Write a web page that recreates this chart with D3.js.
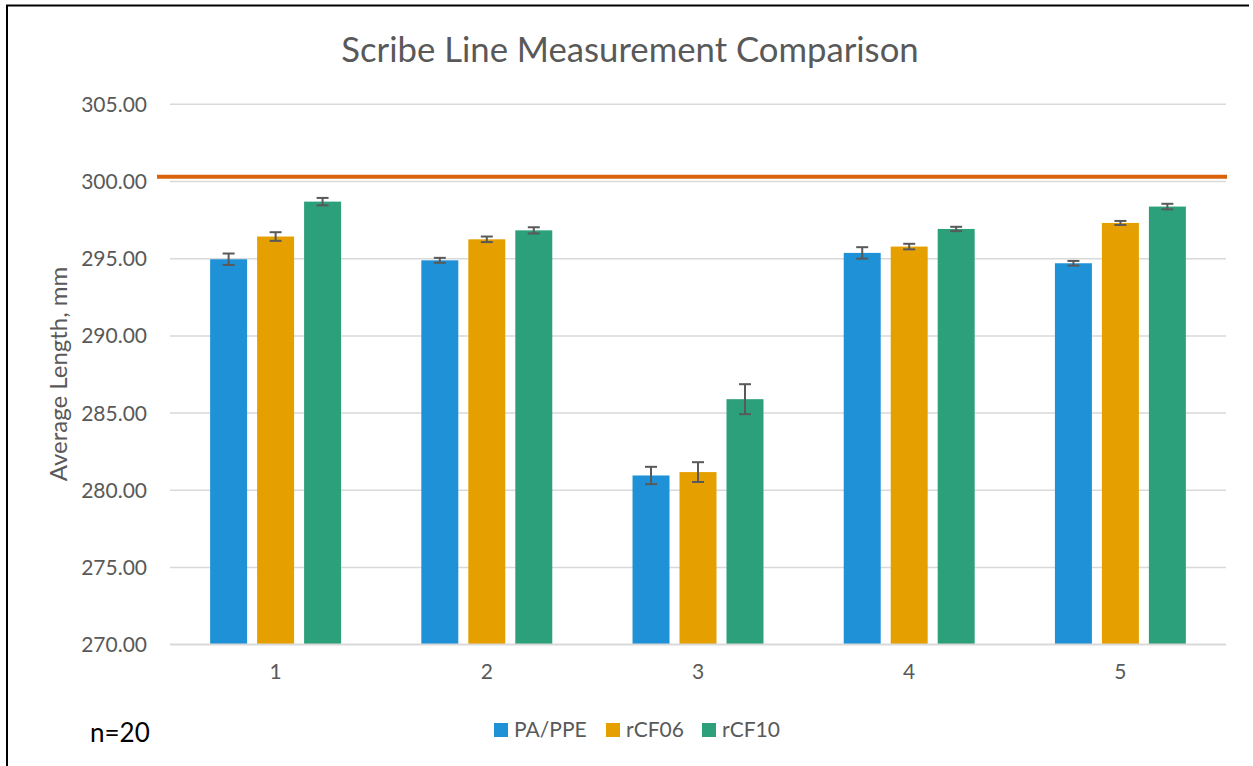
<!DOCTYPE html>
<html>
<head>
<meta charset="utf-8">
<script src="https://cdn.jsdelivr.net/npm/d3@7"></script>
<style>
  html, body { margin: 0; padding: 0; background: #fff; }
  svg { display: block; }
  text { font-family: Lato, "Open Sans", sans-serif; }
</style>
</head>
<body>
<svg id="chart" width="1253" height="766"></svg>
<script>
// ---- data ----
const categories = ["1", "2", "3", "4", "5"];
const seriesNames = ["PA/PPE", "rCF06", "rCF10"];
const paPpe  = [294.93, 294.86, 280.93, 295.34, 294.67];
const rCF06  = [296.40, 296.22, 281.15, 295.75, 297.28];
const rCF10  = [298.66, 296.80, 285.87, 296.89, 298.34];
const paPpeErr = [0.37, 0.16, 0.56, 0.37, 0.15];
const rCF06Err = [0.28, 0.18, 0.64, 0.18, 0.13];
const rCF10Err = [0.24, 0.20, 0.97, 0.14, 0.18];
const targetLength = 300.27;
const yTicks = [270, 275, 280, 285, 290, 295, 300, 305];
const seriesColors = ["#1F91D6", "#E5A000", "#2CA07A"];

const seriesValues = [paPpe, rCF06, rCF10];
const seriesErrors = [paPpeErr, rCF06Err, rCF10Err];

const svg = d3.select("#chart");
const W = 1253, H = 766;
const plot = { left: 170, right: 1226, top: 103.7, bottom: 644.3 };

// border (left and top visible)
svg.append("line").attr("x1", 7).attr("x2", 7).attr("y1", 5).attr("y2", H)
  .attr("stroke", "#000").attr("stroke-width", 2);
svg.append("line").attr("x1", 6).attr("x2", 1249).attr("y1", 5.5).attr("y2", 5.5)
  .attr("stroke", "#000").attr("stroke-width", 2);

const y = d3.scaleLinear().domain([270, 305]).range([plot.bottom, plot.top]);
const x0 = d3.scaleBand().domain(categories).range([plot.left, plot.right])
  .paddingInner(0.38).paddingOuter(0.19);
const x1 = d3.scaleBand().domain(seriesNames).range([0, x0.bandwidth()])
  .paddingInner(0.213).paddingOuter(0);

// gridlines
const yAxis = d3.axisLeft(y).tickValues(yTicks).tickSize(-(plot.right - plot.left))
  .tickFormat(d3.format(".2f")).tickPadding(23);
const gy = svg.append("g").attr("transform", `translate(${plot.left},0)`).call(yAxis);
gy.select(".domain").remove();
gy.selectAll(".tick line").attr("stroke", "#D9D9D9").attr("stroke-width", 1.5);
gy.selectAll(".tick text").attr("fill", "#595959").attr("font-size", 21)
  .attr("font-family", "Lato, 'Open Sans', sans-serif").attr("dy", "0.36em");

// title
svg.append("text").attr("x", 630).attr("y", 62).attr("text-anchor", "middle")
  .attr("font-size", 34.7).attr("fill", "#595959")
  .text("Scribe Line Measurement Comparison");

// y-axis title
svg.append("text").attr("transform", `translate(67,374) rotate(-90)`)
  .attr("text-anchor", "middle").attr("font-size", 24).attr("fill", "#595959")
  .text("Average Length, mm");

// bars
const groups = svg.append("g").selectAll("g").data(categories).join("g")
  .attr("transform", d => `translate(${x0(d)},0)`);

seriesNames.forEach((s, si) => {
  groups.append("rect")
    .attr("x", x1(s))
    .attr("y", (d, i) => y(seriesValues[si][i]))
    .attr("width", x1.bandwidth())
    .attr("height", (d, i) => y(270) - y(seriesValues[si][i]))
    .attr("fill", seriesColors[si]);
});

// x axis baseline
svg.append("line").attr("x1", plot.left).attr("x2", plot.right)
  .attr("y1", y(270)).attr("y2", y(270)).attr("stroke", "#D9D9D9").attr("stroke-width", 1.5);

// error bars
seriesNames.forEach((s, si) => {
  const g = groups.append("g").attr("stroke", "#595959").attr("stroke-width", 2);
  const cx = x1(s) + x1.bandwidth() / 2;
  g.append("line").attr("x1", cx).attr("x2", cx)
    .attr("y1", (d, i) => y(seriesValues[si][i] + seriesErrors[si][i]))
    .attr("y2", (d, i) => y(seriesValues[si][i] - seriesErrors[si][i]));
  g.append("line").attr("x1", cx - 6).attr("x2", cx + 6)
    .attr("y1", (d, i) => y(seriesValues[si][i] + seriesErrors[si][i]))
    .attr("y2", (d, i) => y(seriesValues[si][i] + seriesErrors[si][i]));
  g.append("line").attr("x1", cx - 6).attr("x2", cx + 6)
    .attr("y1", (d, i) => y(seriesValues[si][i] - seriesErrors[si][i]))
    .attr("y2", (d, i) => y(seriesValues[si][i] - seriesErrors[si][i]));
});

// target line
svg.append("line").attr("x1", 157).attr("x2", 1227)
  .attr("y1", y(targetLength)).attr("y2", y(targetLength))
  .attr("stroke", "#D9620B").attr("stroke-width", 4);

// x labels
const xAxis = d3.axisBottom(x0).tickSize(0).tickPadding(20);
const gx = svg.append("g").attr("transform", `translate(0,${y(270)})`).call(xAxis);
gx.select(".domain").remove();
gx.selectAll(".tick text").attr("fill", "#595959").attr("font-size", 21)
  .attr("font-family", "Lato, 'Open Sans', sans-serif");

// legend
const legendX = [494, 606, 702];
const legend = svg.append("g");
seriesNames.forEach((s, si) => {
  legend.append("rect").attr("x", legendX[si]).attr("y", 723).attr("width", 14).attr("height", 14)
    .attr("fill", seriesColors[si]);
  legend.append("text").attr("x", legendX[si] + 20).attr("y", 737)
    .attr("font-size", 21).attr("fill", "#595959").text(s);
});

// n=20 note
svg.append("text").attr("x", 90).attr("y", 742).attr("font-size", 26).attr("fill", "#000")
  .text("n=20");
</script>
</body>
</html>
